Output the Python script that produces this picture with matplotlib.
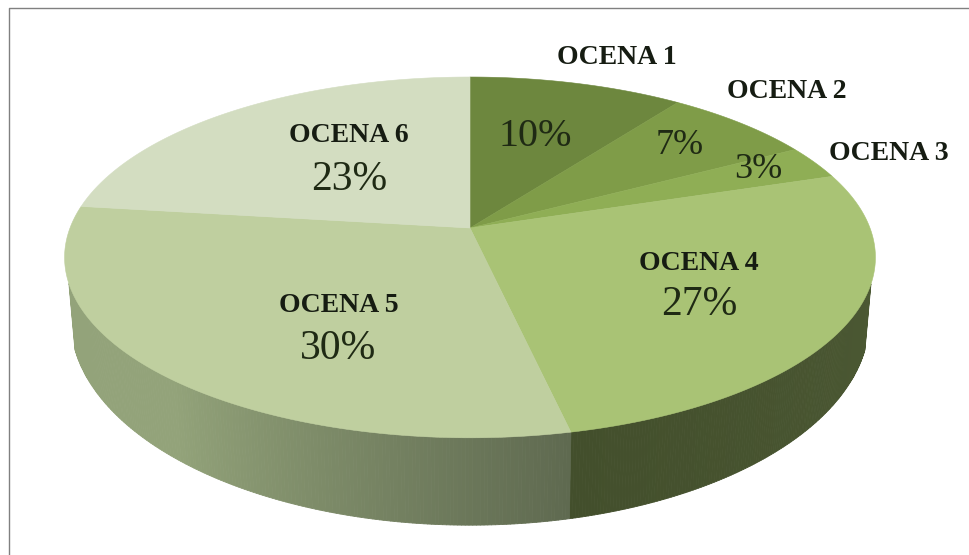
import numpy as np
import matplotlib
matplotlib.use('Agg')
import matplotlib.pyplot as plt
from matplotlib.colors import to_rgb
from matplotlib.collections import PolyCollection

labels = ['OCENA 1', 'OCENA 2', 'OCENA 3', 'OCENA 4', 'OCENA 5', 'OCENA 6']
# slice sizes, the printed percents are rounded
values = [10, 7, 3, 26.6, 30.4, 23]
pct_labels = ['10%', '7%', '3%', '27%', '30%', '23%']
colors = ['#6d873e', '#7f9c48', '#8fae55', '#a9c375', '#bfcf9f', '#d3ddc1']

# label centres in pixels: name, then percent
name_pos = [(617, 58), (787, 91), (889, 153), (699, 263), (339, 305), (349, 136)]
pct_pos = [(535, 137), (680, 145), (758, 169), (699, 305), (338, 349), (349, 180)]
pct_size = [29, 26, 26, 30, 30, 30]

CX, CY = 470, 228
R, RY, P = 400, 175.6, 0.163


def rim(ang, depth=False):
    # ang is clockwise from 12 o'clock, with a bit of perspective
    sx, sy = np.sin(ang), np.cos(ang)
    w = 1 + P * sy
    x = R * sx / w
    y = -RY * sy / w
    if depth:
        return CX + x * 0.985, CY + 58 + y * 1.14
    return CX + x, CY + y


def mix(a, b, t):
    return tuple(np.array(to_rgb(a)) * (1 - t) + np.array(to_rgb(b)) * t)


fig = plt.figure(figsize=(9.7, 5.55), dpi=100)
ax = fig.add_axes([0, 0, 1, 1])
ax.set_xlim(0, 970)
ax.set_ylim(555, 0)
ax.axis('off')

edges = np.cumsum([0] + values) / sum(values) * 2 * np.pi

# side wall, only the two front slices show
wall = [(3, '#434f2c', '#4b5833'), (4, '#5f6a50', '#93a37a')]
for idx, c0, c1 in wall:
    a = np.linspace(edges[idx], edges[idx + 1], 240)
    a = a[(np.cos(a) < -0.3)]
    polys, cols = [], []
    for i in range(len(a) - 1):
        x0, y0 = rim(a[i])
        x1, y1 = rim(a[i + 1])
        x2, y2 = rim(a[i + 1], True)
        x3, y3 = rim(a[i], True)
        polys.append([(x0, y0), (x1, y1), (x2, y2), (x3, y3)])
        t = i / (len(a) - 2)
        if idx == 3:
            t = 1 - t
        else:
            t = min(1, t * 1.6)
        cols.append(mix(c0, c1, t))
    ax.add_collection(PolyCollection(polys, facecolors=cols, edgecolors=cols, linewidths=0.6))

# top face
for i in range(len(values)):
    a = np.linspace(edges[i], edges[i + 1], 120)
    x, y = rim(a)
    ax.fill(np.r_[CX, x], np.r_[CY, y], color=colors[i], lw=0.4)

for i in range(len(values)):
    ax.text(name_pos[i][0], name_pos[i][1], labels[i], family='Liberation Serif', weight='bold',
            fontsize=20, color='#161c12', ha='center', va='center')
    ax.text(pct_pos[i][0], pct_pos[i][1], pct_labels[i], family='Liberation Serif',
            fontsize=pct_size[i], color='#1f2a14', ha='center', va='center')

# frame: only top and left are in the picture
ax.plot([9, 9, 970], [555, 7.5, 7.5], color='#808080', lw=1)

fig.savefig('out.png', dpi=100)
